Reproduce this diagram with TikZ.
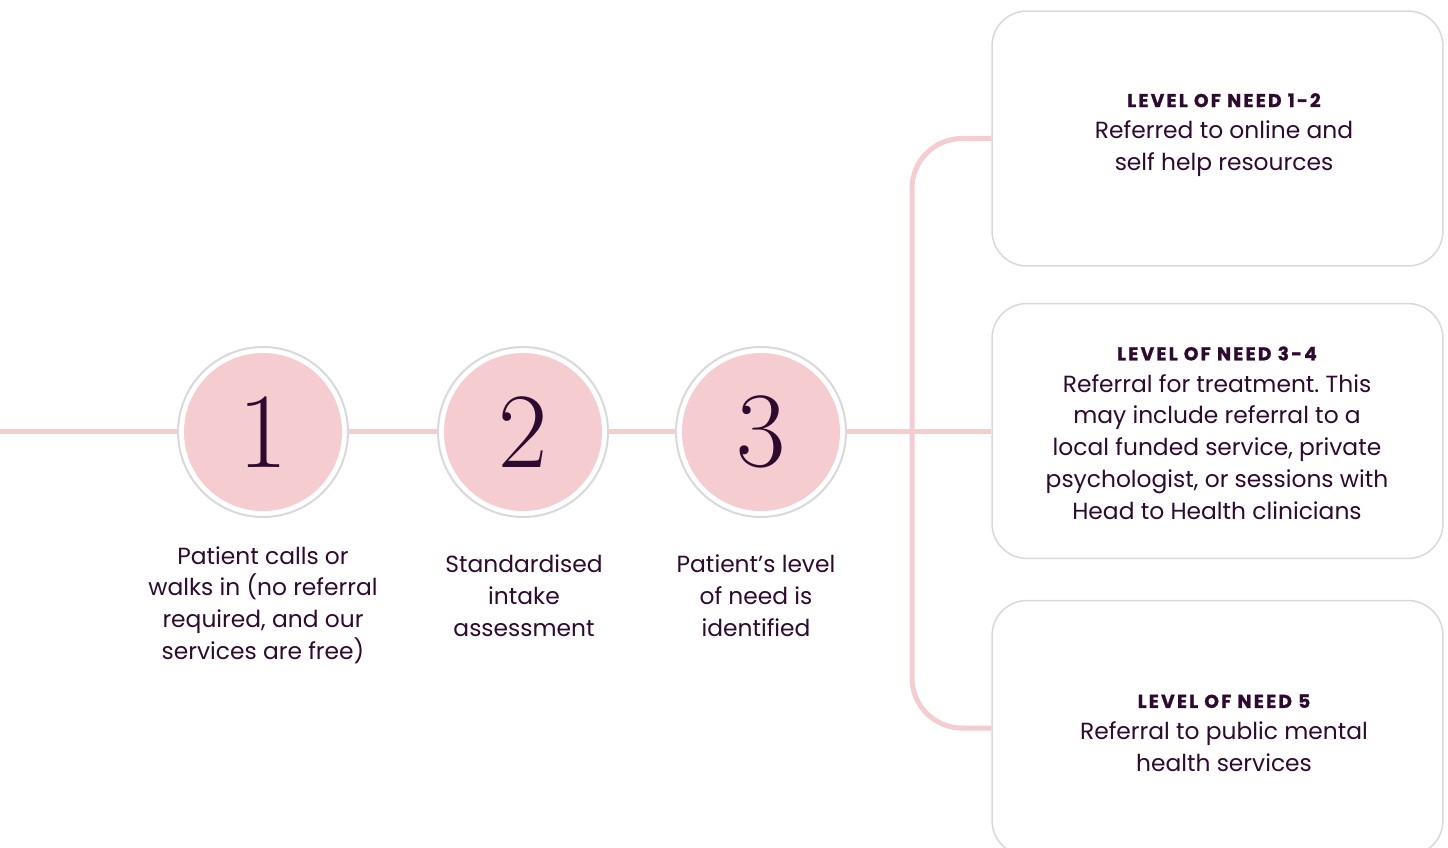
\documentclass[tikz,border=0pt]{standalone}
\usepackage{fontspec}
\setmainfont{Poppins}
\usetikzlibrary{positioning}
\frenchspacing
\definecolor{plum}{HTML}{2E0A30}
\definecolor{blush}{HTML}{F5CDD0}
\definecolor{ringgray}{HTML}{D9D9D9}
\newcommand{\needhead}[1]{{\fontsize{10.6}{18.1}\selectfont\bfseries\addfontfeatures{LetterSpace=12,FakeBold=1.2}#1}\\}
\begin{document}
\begin{tikzpicture}[x=0.02cm,y=-0.02cm,
    body/.style={text=plum,align=center,font=\fontsize{13.3}{18.1}\selectfont},
    ring/.style={circle,draw=ringgray,line width=0.04cm,fill=white,minimum size=3.4cm,inner sep=0pt},
    disc/.style={circle,fill=blush,minimum size=3.16cm,inner sep=0pt,text=plum,
        font=\fontfamily{lmr}\fontsize{61}{61}\selectfont},
    needbox/.style={draw=ringgray,line width=0.03cm,rounded corners=0.7cm,fill=white,
        minimum width=9.02cm,minimum height=5.1cm},
    pinkline/.style={draw=blush,line width=0.1cm}]
    \useasboundingbox (0,0) rectangle (1448,848);
    % boxes for the three levels of need
    \node[needbox] (b1) at (1217.5,138.5) {};
    \node[needbox] (b2) at (1217.5,431) {};
    \node[needbox] (b3) at (1217.5,728) {};
    \node[body] (n1) at (1224,135) {\needhead{LEVEL OF NEED 1-2}Referred to online and\\self help resources};
    \node[body] (n2) at (1217,433) {\needhead{LEVEL OF NEED 3-4}Referral for treatment. This\\may include referral to a\\local funded service, private\\psychologist, or sessions with\\Head to Health clinicians};
    \node[body] (n3) at (1224,733) {\needhead{LEVEL OF NEED 5}Referral to public mental\\health services};
    % pathway line
    \coordinate (start) at (0,431);
    \draw[pinkline] (start) -- (b2.west);
    \draw[pinkline,rounded corners=1cm] (b1.west) -| (912,431) |- (b3.west);
    % steps
    \node[ring] (r1) at (263,432) {};
    \node[ring] (r2) at (523,432) {};
    \node[ring] (r3) at (761,432) {};
    \node[disc] (c1) at (r1) {1};
    \node[disc] (c2) at (r2) {2};
    \node[disc] (c3) at (r3) {3};
    \node[body] (t1) at (263,605) {Patient calls or\\walks in (no referral\\required, and our\\services are free)};
    \node[body] (t2) at (524,596) {Standardised\\intake\\assessment};
    \node[body] (t3) at (756,596) {Patient’s level\\of need is\\identified};
\end{tikzpicture}
\end{document}
